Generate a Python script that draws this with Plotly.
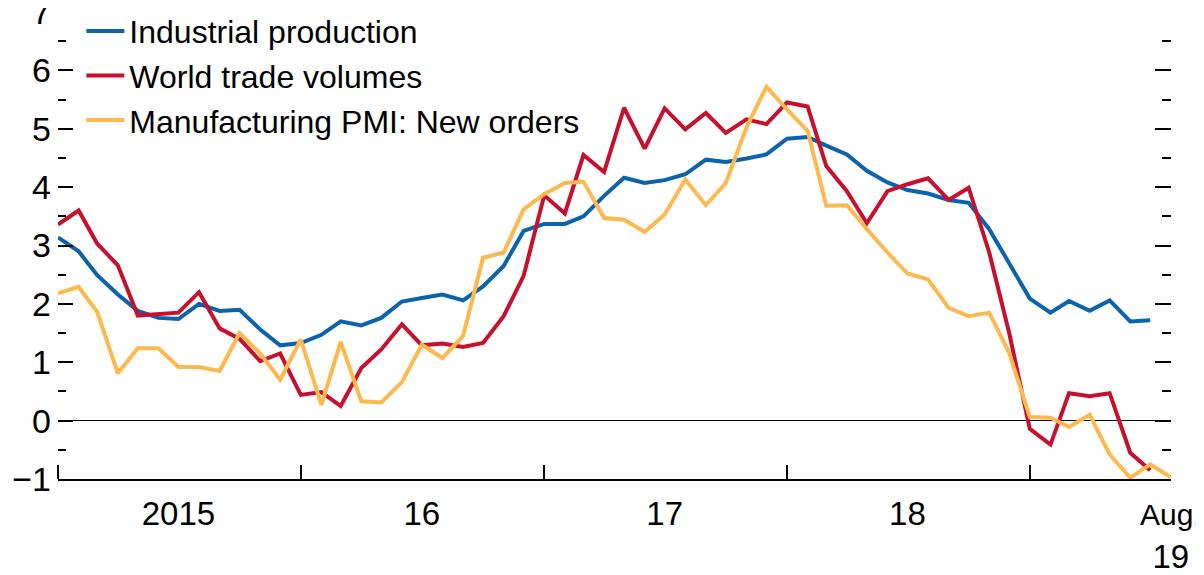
import pandas as pd
import plotly.graph_objects as go

months = pd.date_range("2015-01-01", "2019-08-01", freq="MS")

industrial_production = [
    3.14, 2.90, 2.49, 2.16, 1.88, 1.76, 1.74, 2.00, 1.88, 1.90, 1.56, 1.29,
    1.33, 1.47, 1.70, 1.63, 1.76, 2.04, 2.10, 2.16, 2.06, 2.30, 2.65, 3.25,
    3.37, 3.37, 3.50, 3.85, 4.16, 4.07, 4.12, 4.22, 4.47, 4.43, 4.49, 4.56,
    4.83, 4.86, 4.71, 4.56, 4.28, 4.08, 3.95, 3.89, 3.78, 3.73, 3.28, 2.70,
    2.09, 1.85, 2.05, 1.88, 2.06, 1.70, 1.72, None,
]
world_trade_volumes = [
    3.36, 3.60, 3.03, 2.66, 1.80, 1.83, 1.85, 2.20, 1.58, 1.40, 1.02, 1.15,
    0.44, 0.49, 0.25, 0.90, 1.22, 1.65, 1.29, 1.32, 1.26, 1.33, 1.79, 2.48,
    3.86, 3.55, 4.55, 4.26, 5.36, 4.66, 5.35, 4.99, 5.27, 4.93, 5.16, 5.08,
    5.45, 5.38, 4.36, 3.93, 3.38, 3.93, 4.05, 4.15, 3.78, 3.99, 2.88, 1.50,
    -0.14, -0.41, 0.47, 0.42, 0.47, -0.55, -0.85, None,
]
pmi_new_orders = [
    2.18, 2.29, 1.86, 0.81, 1.24, 1.24, 0.92, 0.92, 0.85, 1.50, 1.15, 0.70,
    1.39, 0.27, 1.35, 0.33, 0.31, 0.66, 1.30, 1.07, 1.45, 2.79, 2.88, 3.62,
    3.88, 4.07, 4.09, 3.47, 3.44, 3.23, 3.53, 4.13, 3.69, 4.07, 5.02, 5.72,
    5.33, 4.96, 3.68, 3.69, 3.28, 2.88, 2.52, 2.42, 1.93, 1.79, 1.85, 1.16,
    0.06, 0.05, -0.11, 0.10, -0.58, -0.98, -0.75, -0.97,
]

series_names = ["Industrial production", "World trade volumes", "Manufacturing PMI: New orders"]
series_colors = ["#0b62ad", "#c8102e", "#fdb94e"]

x_tick_vals = ["2015-07-01", "2016-07-01", "2017-07-01", "2018-07-01", "2019-08-01"]
x_tick_text = ["2015", "16", "17", "18", "<span style='font-size:30px'>Aug.</span><br>19"]

FONT = "Liberation Sans, Arial, sans-serif"

fig = go.Figure()
for name, vals, col in zip(series_names, [industrial_production, world_trade_volumes, pmi_new_orders], series_colors):
    fig.add_trace(go.Scatter(x=months, y=vals, mode="lines", name=name,
                             line=dict(color=col, width=4), connectgaps=False))
# invisible trace for right-hand tick axis
fig.add_trace(go.Scatter(x=[months[0]], y=[None], yaxis="y2", showlegend=False, hoverinfo="skip"))

fig.update_layout(
    width=1196, height=567,
    margin=dict(l=50, r=33, t=4, b=96, autoexpand=False),
    plot_bgcolor="white", paper_bgcolor="white",
    font=dict(family=FONT, size=34, color="black"),
    showlegend=True,
    legend=dict(x=0.021, y=1.018, xanchor="left", yanchor="top",
                bgcolor="rgba(0,0,0,0)", font=dict(size=32), tracegroupgap=0,
                itemwidth=38),
    xaxis=dict(
        range=["2015-01-01", "2019-08-01 06:00"],
        tickvals=x_tick_vals, ticktext=x_tick_text, ticks="",
        showgrid=False, zeroline=False, automargin=False,
        showline=True, linecolor="black", linewidth=2,
        ticklabelstandoff=4, ticklabeloverflow="allow",
        tickfont=dict(size=33),
        minor=dict(dtick="M12", tick0="2015-01-01", ticks="inside", ticklen=14,
                   tickwidth=2, tickcolor="black", showgrid=False),
    ),
    yaxis=dict(
        range=[-1, 7], dtick=1, tick0=0, ticks="inside", ticklen=15, tickwidth=2,
        tickcolor="black", showgrid=False, showline=False, automargin=False,
        zeroline=True, zerolinecolor="black", zerolinewidth=1,
        minor=dict(dtick=0.5, ticks="inside", ticklen=8, tickwidth=2, tickcolor="black", showgrid=False),
        ticklabelstandoff=6, ticklabeloverflow="allow",
    ),
    yaxis2=dict(
        range=[-1, 7], dtick=1, tick0=0, overlaying="y", side="right",
        ticks="inside", ticklen=16, tickwidth=2, tickcolor="black", automargin=False,
        showticklabels=False, showgrid=False, zeroline=False, showline=False,
        minor=dict(dtick=0.5, ticks="inside", ticklen=9, tickwidth=2, tickcolor="black", showgrid=False),
    ),
)

fig.write_html("out.html")
